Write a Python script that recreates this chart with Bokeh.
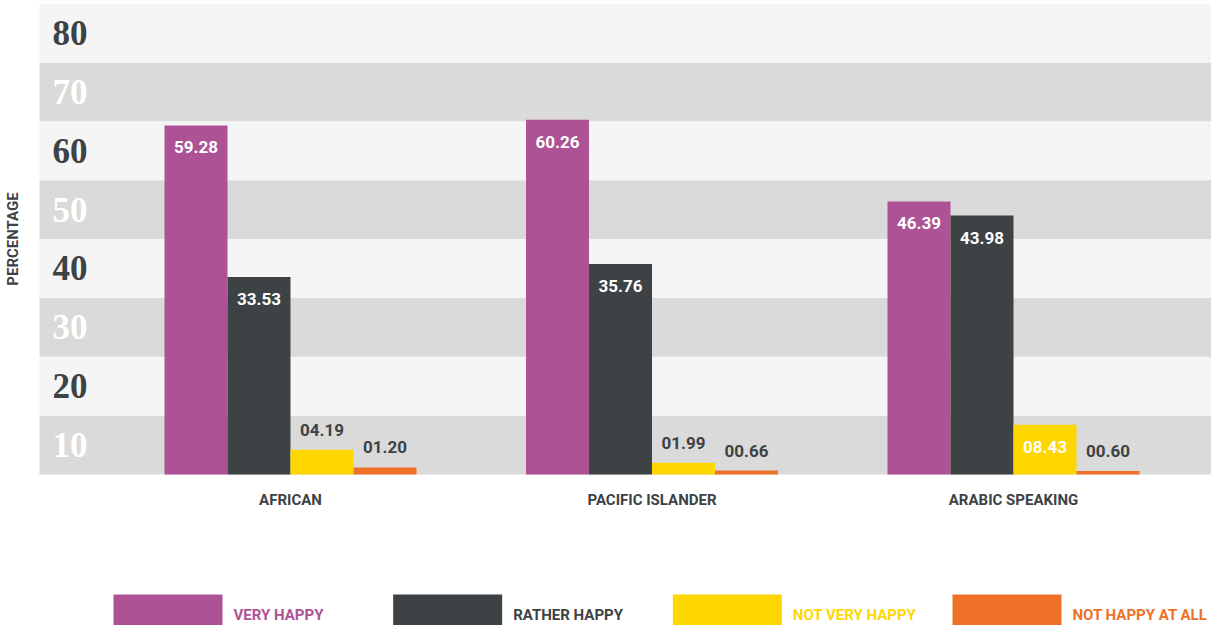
import math
from bokeh.plotting import figure
from bokeh.models import ColumnDataSource, Range1d, BoxAnnotation
from bokeh.transform import dodge
from bokeh.core.properties import value
from bokeh.embed import file_html
from bokeh.resources import INLINE

# ---------------- data ----------------
groups = ["AFRICAN", "PACIFIC ISLANDER", "ARABIC SPEAKING"]
series = ["VERY HAPPY", "RATHER HAPPY", "NOT VERY HAPPY", "NOT HAPPY AT ALL"]
very_happy = [59.28, 60.26, 46.39]
rather_happy = [33.53, 35.76, 43.98]
not_very_happy = [4.19, 1.99, 8.43]
not_happy_at_all = [1.20, 0.66, 0.60]
series_values = [very_happy, rather_happy, not_very_happy, not_happy_at_all]
colors = ["#ae5296", "#3d4245", "#fed700", "#ee7127"]
y_ticks = [10, 20, 30, 40, 50, 60, 70, 80]
y_title = "PERCENTAGE"

# ---------------- styles / layout ----------------
SANS = "Roboto"
SERIF = "Liberation Serif"
DARK = "#3d4245"
LIGHT_BAND = "#f4f5f4"
GREY_BAND = "#d9dad9"
PX_X = 361.5          # pixels per group unit
PX_Y = 5.8875         # pixels per percentage point
W, H = 1211, 625
X0 = -290 / PX_X
Y1 = 80 + 3 / PX_Y
BW = 63 / PX_X


def xs(px):   # page x pixel -> data x
    return X0 + (px - 8) / PX_X


def ys(py):   # page y pixel -> data y
    return Y1 - (py - 8) / PX_Y


p = figure(width=W, height=H,
           x_range=Range1d(X0, X0 + W / PX_X), y_range=Range1d(Y1 - H / PX_Y, Y1),
           output_backend="svg", toolbar_location=None,
           x_axis_location=None, y_axis_location=None, min_border=0)
p.background_fill_color = "white"
p.border_fill_color = "white"
p.outline_line_color = None
p.grid.visible = False

# alternating bands
band_left = xs(47)
lows = [0] + y_ticks[:-1]
for i, (lo, hi) in enumerate(zip(lows, y_ticks)):
    p.add_layout(BoxAnnotation(left=band_left, bottom=lo, top=hi,
                               fill_color=GREY_BAND if i % 2 == 0 else LIGHT_BAND,
                               fill_alpha=1, line_color=None, level="underlay"))

# y tick labels drawn inside bands
ysrc = ColumnDataSource(dict(
    x=[xs(60)] * len(y_ticks),
    y=[t - 5 for t in y_ticks],
    text=[str(t) for t in y_ticks],
    color=["white" if i % 2 == 0 else DARK for i in range(len(y_ticks))],
))
p.text(x="x", y="y", text="text", text_color="color", source=ysrc,
       text_font=value(SERIF), text_font_style="bold", text_font_size="35px",
       text_align="left", text_baseline="middle")

# y title
p.text(x=[xs(20)], y=[y_ticks[-1] / 2], text=[y_title], angle=math.pi / 2,
       text_color=DARK, text_font=value(SANS), text_font_style="bold",
       text_font_size="15px", text_align="center", text_baseline="middle")

# bars and value labels
for j, (name, vals) in enumerate(zip(series, series_values)):
    inside = [v >= 6 for v in vals]
    src = ColumnDataSource(dict(
        x=list(range(len(groups))),
        top=vals,
        label=[f"{v:05.2f}" for v in vals],
        tcolor=["white" if k else DARK for k in inside],
        yoff=[22 if k else -20 for k in inside],
    ))
    xd = dodge("x", (j - 1.5) * BW, range=p.x_range)
    p.vbar(x=xd, top="top", bottom=0, width=BW, source=src,
           fill_color=colors[j], line_color=None)
    p.text(x=xd, y="top", text="label", text_color="tcolor", y_offset="yoff",
           source=src, text_font=value(SANS), text_font_style="bold",
           text_font_size="17px", text_align="center", text_baseline="middle")

# group labels
p.text(x=list(range(len(groups))), y=[ys(507)] * len(groups), text=groups,
       text_color=DARK, text_font=value(SANS), text_font_style="bold",
       text_font_size="15px", text_align="center", text_baseline="middle")

# legend
lx0, lstep = xs(121), 279.67 / PX_X
idx = list(range(len(series)))
lsrc = ColumnDataSource(dict(
    left=[lx0 + i * lstep for i in idx],
    right=[lx0 + i * lstep + 109 / PX_X for i in idx],
    tx=[lx0 + i * lstep + 120 / PX_X for i in idx],
    name=series, color=colors,
))
p.quad(left="left", right="right", top=ys(602), bottom=ys(660), source=lsrc,
       fill_color="color", line_color=None)
p.text(x="tx", y=ys(622), text="name", text_color="color", source=lsrc,
       text_font=value(SANS), text_font_style="bold", text_font_size="15px",
       text_align="left", text_baseline="middle")

open("out.html", "w").write(file_html(p, INLINE))
